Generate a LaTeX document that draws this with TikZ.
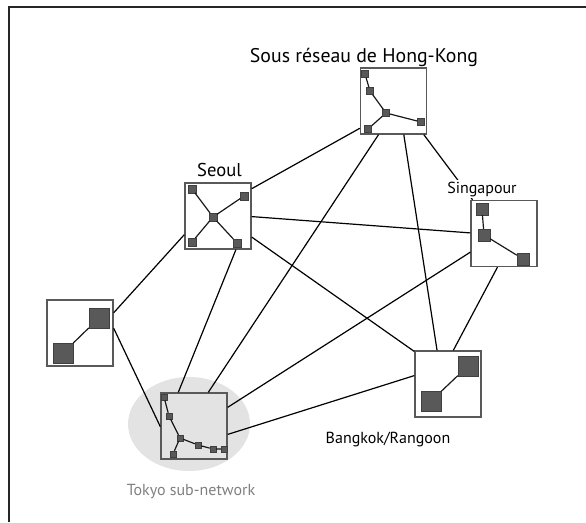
\documentclass[tikz,border=0pt]{standalone}
\usepackage{fontspec}
\setmainfont{PT Sans}
\usetikzlibrary{shapes.geometric}
\begin{document}
\begin{tikzpicture}[x=1pt,y=-1pt,
  netbox/.style={draw=black!65,line width=1.4pt,minimum width=66pt,minimum height=66pt,inner sep=0pt},
  sq/.style={draw=black!75,fill=black!65,line width=0.4pt,inner sep=0pt,minimum size=#1},
  link/.style={line width=1.2pt,black},
  inner/.style={line width=1.2pt,black!90},
  lbl/.style={font=\fontsize{16}{18}\selectfont,anchor=base,inner sep=1.5pt},
  biglbl/.style={font=\fontsize{#1}{22}\selectfont,anchor=base,inner sep=1.5pt}]
\useasboundingbox (0,0) rectangle (586,522);
% outer frame
\coordinate (fa) at (9,522);
\coordinate (fb) at (9,7);
\coordinate (fc) at (586,7);
\draw[line width=1.5pt,black!85] (fa) -- (fb) -- (fc);
% tokyo halo
\node[ellipse,fill=black!11,minimum width=122pt,minimum height=94pt,inner sep=0pt] (halo) at (189,424) {};
% boxes
\node[netbox,fill=white] (hk) at (393.5,101) {};
\node[netbox,fill=white] (seoul) at (218,216) {};
\node[netbox,fill=white] (sing) at (504,233.5) {};
\node[netbox,fill=white] (left) at (80,333) {};
\node[netbox,fill=white] (bkk) at (448,384) {};
\node[netbox] (tokyo) at (194,426) {};
% links between boxes
\draw[link] (seoul.39.3) -- (hk.219.9);
\draw[link] (hk.246.9) -- (tokyo.67);
\draw[link] (hk.287.2) -- (bkk.108.4);
\draw[link] (hk.312.8) -- (sing.133.6);
\draw[link] (seoul.-1.7) -- (sing.179);
\draw[link] (seoul.-32.5) -- (bkk.136.8);
\draw[link] (seoul.-62.7) -- (tokyo.115.9);
\draw[link] (seoul.209.2) -- (left.31.2);
\draw[link] (left.8.6) -- (tokyo.181.7);
\draw[link] (sing.209.3) -- (tokyo.29.9);
\draw[link] (sing.259.5) -- (bkk.81.4);
\draw[link] (bkk.166.4) -- (tokyo.346.4);
% Hong-Kong inner
\node[sq=7pt] (h1) at (365,74) {};
\node[sq=7pt] (h2) at (370,91) {};
\node[sq=7pt] (hc) at (386,113) {};
\node[sq=7pt] (h3) at (421,122) {};
\node[sq=7pt] (h4) at (368,129) {};
\draw[inner] (h1) -- (h2) -- (hc) -- (h3);
\draw[inner] (hc) -- (h4);
% Seoul inner
\node[sq=7.5pt] (s1) at (192,189) {};
\node[sq=7.5pt] (s2) at (244,196) {};
\node[sq=7.5pt] (sc) at (213,217) {};
\node[sq=7.5pt] (s3) at (192,242) {};
\node[sq=7.5pt] (s4) at (237,243) {};
\draw[inner] (sc) -- (s1) (sc) -- (s2) (sc) -- (s3) (sc) -- (s4);
% Singapore inner
\node[sq=12pt] (g1) at (482,209) {};
\node[sq=12pt] (g2) at (484,235) {};
\node[sq=12pt] (g3) at (523,259) {};
\draw[inner] (g1) -- (g2) -- (g3);
% Left inner
\node[sq=20pt] (l1) at (99,318) {};
\node[sq=20pt] (l2) at (63,353) {};
\draw[inner] (l1) -- (l2);
% Bangkok inner
\node[sq=20pt] (b1) at (468,366) {};
\node[sq=20pt] (b2) at (431,401) {};
\draw[inner] (b1) -- (b2);
% Tokyo inner
\node[sq=6pt] (t1) at (164,397) {};
\node[sq=6pt] (t2) at (169,416) {};
\node[sq=6pt] (t3) at (180,438) {};
\node[sq=6pt] (t4) at (173,454) {};
\node[sq=6pt] (t5) at (198,445) {};
\node[sq=6pt] (t6) at (213,449) {};
\node[sq=6pt] (t7) at (224,449) {};
\draw[inner] (t1) -- (t2) -- (t3) -- (t5) -- (t6) -- (t7);
\draw[inner] (t3) -- (t4);
% labels
\node[biglbl=19.8] (lhk) at (364,62) {Sous réseau de Hong-Kong};
\node[biglbl=18.6] (lseoul) at (219.5,176) {Seoul};
\node[lbl,fill=white] (lsing) at (482,193) {Singapour};
\node[lbl] (lbkk) at (388,443) {Bangkok/Rangoon};
\node[lbl,text=black!50] (ltokyo) at (191,495) {Tokyo sub-network};
\end{tikzpicture}
\end{document}
